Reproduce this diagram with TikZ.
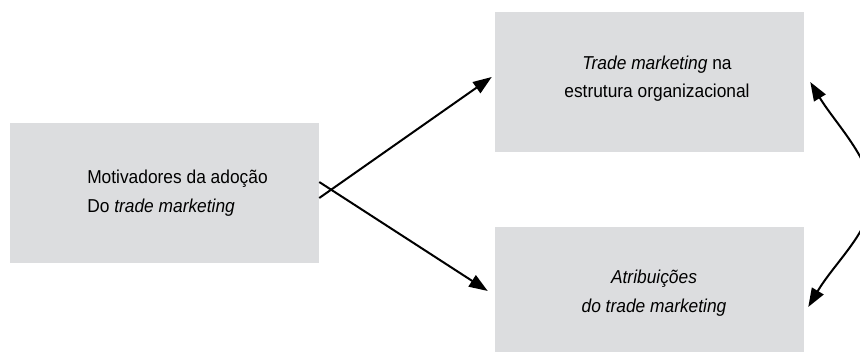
\documentclass[tikz,border=0pt]{standalone}
\usepackage{fontspec}
\setmainfont{Liberation Sans}[FakeStretch=0.93]
\usetikzlibrary{arrows.meta}
\definecolor{boxgray}{RGB}{220,221,223}
\begin{document}
\begin{tikzpicture}[x=0.75pt,y=-0.75pt,
  box/.style={fill=boxgray, draw=none, minimum width=231.75pt, inner sep=0pt},
  txt/.style={font=\fontsize{14}{21.4}\selectfont, inner sep=0pt},
  conn/.style={line width=1.5pt, -{Triangle[length=14pt,width=10pt]}},
  twoway/.style={line width=1.5pt, {Triangle[length=14pt,width=10pt]}-{Triangle[length=14pt,width=10pt]}}]
\useasboundingbox (0,0) rectangle (860,361);
% boxes
\node[box, minimum height=105pt] (L) at (164.5,193) {};
\node[box, minimum height=105pt] (T) at (649.5,82) {};
\node[box, minimum height=93.75pt] (B) at (649.5,289.5) {};
% texts
\node[txt, align=left] (Lt) at (177.5,193.3) {Motivadores da adoção\\Do \textit{trade marketing}};
\node[txt, align=center] (Tt) at (657,78.5) {\textit{Trade marketing} na\\estrutura organizacional};
\node[txt, align=center] (Bt) at (654,293) {\textit{Atribuições}\\\textit{do trade marketing}};
% connectors
\draw[conn] ([yshift=-3.75pt]L.east) -- ([xshift=-2.25pt,yshift=3.75pt]T.west);
\draw[conn] ([yshift=8.25pt]L.east) -- ([xshift=-5.25pt,yshift=-1.1pt]B.west);
\coordinate (M) at (872,195);
\draw[twoway] ([xshift=4.5pt]T.east) .. controls (835,123) and (872,160) .. (M)
  .. controls (872,230) and (835,262) .. ([xshift=3pt,yshift=-13.1pt]B.east);
\end{tikzpicture}
\end{document}
